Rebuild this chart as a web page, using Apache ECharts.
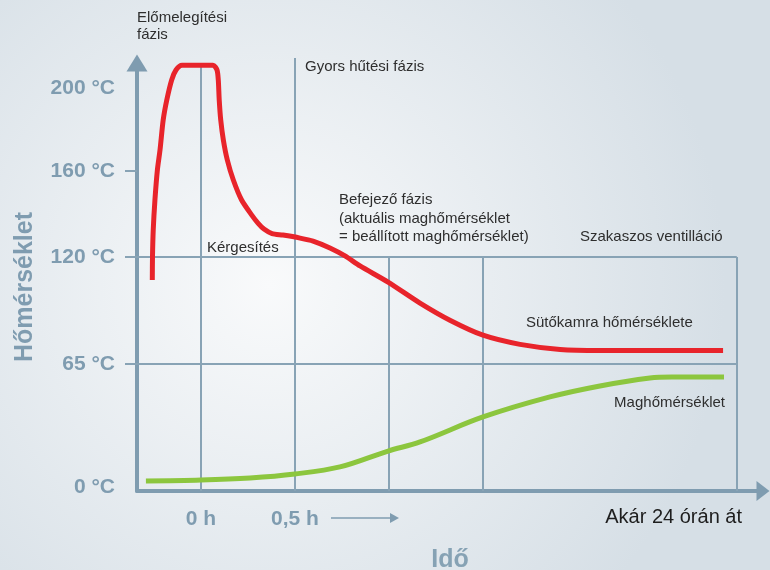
<!DOCTYPE html>
<html><head><meta charset="utf-8">
<script src="https://cdn.jsdelivr.net/npm/echarts@6/dist/echarts.min.js"></script>
<style>html,body{margin:0;padding:0;background:#fff}#c{width:770px;height:570px;}</style>
</head><body><div id="c"></div>
<script>
// ---- data (time in schematic units: 0.5 per column, temperature in °C) ----
const ovenTime = [-0.259,-0.258,-0.254,-0.245,-0.232,-0.218,-0.201,-0.182,-0.156,-0.133,-0.101,0.064,0.085,0.092,0.097,0.105,0.119,0.140,0.172,0.216,0.270,0.303,0.335,0.378,0.436,0.527,0.596,0.686,0.766,0.846,0.995,1.165,1.324,1.5,1.697,1.91,2.122,2.777];
const ovenTemp = [108.2,120,132.6,146.5,160.5,170.1,184.6,194.2,203.9,208.7,211,211,208.7,203.9,194.2,184.6,174.9,165.3,155.8,146.5,139.5,135.8,133.0,130.9,130.2,128.8,127.4,124.2,120.5,115.4,107.1,96.3,87.5,79.8,75.1,72.5,72.0,72.0];
const coreTime = [-0.293,0,0.261,0.5,0.739,0.995,1.165,1.5,1.856,2.122,2.388,2.505,2.782];
const coreTemp = [3.2,3.7,4.8,6.9,10.6,19.0,23.8,37.0,47.6,53.4,57.6,58.1,58.1];
const tempTicks = [0,65,120,160,200];
const tempTickLabels = ['0 °C','65 °C','120 °C','160 °C','200 °C'];
const timeTicks = [0,0.5];
const timeTickLabels = ['0 h','0,5 h'];
const phaseBounds = [0,0.5,1.0,1.5,2.85];
const gridTemps = [65,120];

// ---- schematic (non-linear) temperature scale ----
const axisStops = [0,123,230,316,399];
function toAxis(t){
  for(let i=1;i<tempTicks.length;i++){
    if(t<=tempTicks[i]){
      const a=tempTicks[i-1],b=tempTicks[i];
      return axisStops[i-1]+(t-a)/(b-a)*(axisStops[i]-axisStops[i-1]);
    }
  }
  const n=tempTicks.length-1;
  return axisStops[n]+(t-tempTicks[n])*(axisStops[n]-axisStops[n-1])/(tempTicks[n]-tempTicks[n-1]);
}
const X_MIN=-0.3404, X_MAX=2.9894, Y_MIN=-4, Y_MAX=424;

const axisCol='#7f9cb0', gridCol='#88a3b5', txt='#2e2e2e';
const FONT='"Liberation Sans", Arial, sans-serif';

const gridLines=[];
gridTemps.forEach(t=>gridLines.push({coords:[[X_MIN,toAxis(t)],[phaseBounds[phaseBounds.length-1],toAxis(t)]]}));
const tops=[211,214.5,120,120,120];
phaseBounds.forEach((x,i)=>gridLines.push({coords:[[x,Y_MIN],[x,toAxis(tops[i])]]}));

const chart=echarts.init(document.getElementById('c'));
chart.setOption({
  backgroundColor:{type:'radial',x:0.35,y:0.5,r:0.8,colorStops:[{offset:0,color:'#f9fafb'},{offset:1,color:'#d6dfe6'}]},
  animation:false,
  grid:{left:137,right:7,top:63,bottom:79,containLabel:false,outerBoundsMode:'none'},
  xAxis:{type:'value',min:X_MIN,max:X_MAX,
    name:'Idő',nameLocation:'middle',nameGap:57,
    nameTextStyle:{fontFamily:FONT,fontWeight:'bold',fontSize:25,color:'#86a2b4'},
    axisLine:{show:true,onZero:false,symbol:['none','triangle'],symbolSize:[20,13],lineStyle:{color:axisCol,width:4}},
    axisTick:{show:false},splitLine:{show:false},
    axisLabel:{customValues:timeTicks,margin:18,fontFamily:FONT,fontWeight:'bold',fontSize:21,color:'#7f9cb0',
      formatter:v=>timeTickLabels[timeTicks.indexOf(v)]}},
  yAxis:{type:'value',min:Y_MIN,max:Y_MAX,
    axisLine:{show:true,onZero:false,symbol:['none','triangle'],symbolSize:[21,17],lineStyle:{color:axisCol,width:4}},
    axisTick:{show:true,customValues:[toAxis(65),toAxis(120),toAxis(160)],length:12,lineStyle:{color:gridCol,width:2}},
    splitLine:{show:false},
    axisLabel:{customValues:tempTicks.map(toAxis),margin:22,fontFamily:FONT,fontWeight:'bold',fontSize:21,color:'#7f9cb0',
      formatter:v=>{const i=tempTicks.map(toAxis).findIndex(p=>Math.abs(p-v)<0.01);return tempTickLabels[i];}}},
  series:[
    {type:'lines',coordinateSystem:'cartesian2d',clip:false,silent:true,z:1,
      lineStyle:{color:gridCol,width:2,opacity:1},data:gridLines},
    {type:'line',name:'Maghőmérséklet',z:3,showSymbol:false,smooth:0.35,
      lineStyle:{color:'#8cc63e',width:5,cap:'butt'},
      data:coreTime.map((x,i)=>[x,toAxis(coreTemp[i])])},
    {type:'line',name:'Sütőkamra hőmérséklete',z:4,showSymbol:false,smooth:0.25,
      lineStyle:{color:'#e8242b',width:5,cap:'butt'},
      data:ovenTime.map((x,i)=>[x,toAxis(ovenTemp[i])])}
  ],
  graphic:[
    {type:'text',x:25,y:287,rotation:Math.PI/2,style:{text:'Hőmérséklet',font:'bold 25px '+FONT,fill:'#7f9cb0',align:'center',verticalAlign:'middle'}},
    {type:'text',x:137,y:18,style:{text:'Előmelegítési',font:'15px '+FONT,fill:txt,verticalAlign:'middle'}},
    {type:'text',x:137,y:35,style:{text:'fázis',font:'15px '+FONT,fill:txt,verticalAlign:'middle'}},
    {type:'text',x:305,y:67,style:{text:'Gyors hűtési fázis',font:'15px '+FONT,fill:txt,verticalAlign:'middle'}},
    {type:'text',x:207,y:248,style:{text:'Kérgesítés',font:'15px '+FONT,fill:txt,verticalAlign:'middle'}},
    {type:'text',x:339,y:200,style:{text:'Befejező fázis',font:'15px '+FONT,fill:txt,verticalAlign:'middle'}},
    {type:'text',x:339,y:219,style:{text:'(aktuális maghőmérséklet',font:'15px '+FONT,fill:txt,verticalAlign:'middle'}},
    {type:'text',x:339,y:237,style:{text:'= beállított maghőmérséklet)',font:'15px '+FONT,fill:txt,verticalAlign:'middle'}},
    {type:'text',x:580,y:237,style:{text:'Szakaszos ventilláció',font:'15px '+FONT,fill:txt,verticalAlign:'middle'}},
    {type:'text',x:526,y:323,style:{text:'Sütőkamra hőmérséklete',font:'15px '+FONT,fill:txt,verticalAlign:'middle'}},
    {type:'text',x:725,y:403,style:{text:'Maghőmérséklet',font:'15px '+FONT,fill:txt,align:'right',verticalAlign:'middle'}},
    {type:'text',x:742,y:517,style:{text:'Akár 24 órán át',font:'20px '+FONT,fill:'#1e1e1e',align:'right',verticalAlign:'middle'}},
    {type:'line',shape:{x1:331,y1:518,x2:392,y2:518},style:{stroke:axisCol,lineWidth:1.5}},
    {type:'polygon',shape:{points:[[390,513],[399,518],[390,523]]},style:{fill:axisCol}}
  ]
});
</script></body></html>
